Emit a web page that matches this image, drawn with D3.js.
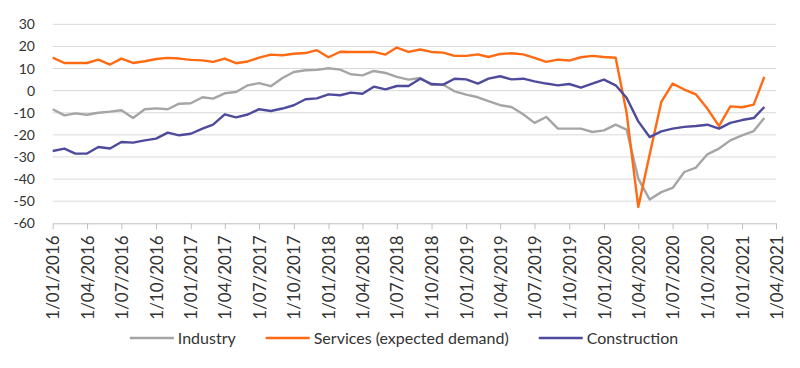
<!DOCTYPE html>
<html>
<head>
<meta charset="utf-8">
<script src="https://cdn.jsdelivr.net/npm/d3@7"></script>
<style>
  html, body { margin: 0; padding: 0; background: #fff; }
  svg { display: block; font-family: Lato, "Open Sans", sans-serif; }
</style>
</head>
<body>
<svg id="chart" width="800" height="368"></svg>
<script>
// ---- Data (monthly, Jan 2016 – Mar 2021) ----
const startMonth = "2016-01";
const seriesNames = ["Industry", "Services (expected demand)", "Construction"];
const seriesColors = ["#A5A5A5", "#FF6A13", "#4E4A9C"];

const industry = [
  -8.4, -11.2, -10.3, -10.9, -10.0, -9.5, -8.9, -12.4, -8.4, -8.0, -8.4, -5.9,
  -5.7, -3.0, -3.6, -1.2, -0.6, 2.4, 3.4, 2.0, 5.7, 8.4, 9.2, 9.4,
  10.1, 9.5, 7.4, 6.9, 8.9, 8.0, 6.2, 5.0, 5.7, 2.6, 2.7, -0.3,
  -1.8, -3.0, -4.7, -6.6, -7.4, -10.7, -14.6, -11.9, -17.2, -17.2, -17.2, -18.7,
  -18.0, -15.4, -17.6, -39.8, -49.2, -45.9, -44.0, -36.8, -34.8, -28.8, -26.2, -22.5,
  -20.2, -18.3, -12.4
];
const services = [
  14.9, 12.5, 12.5, 12.5, 14.0, 11.8, 14.5, 12.5, 13.3, 14.3, 14.8, 14.5,
  13.9, 13.7, 13.0, 14.5, 12.4, 13.2, 14.9, 16.3, 16.0, 16.7, 17.0, 18.3,
  15.1, 17.6, 17.5, 17.5, 17.5, 16.3, 19.5, 17.5, 18.6, 17.5, 17.2, 15.7,
  15.7, 16.4, 15.2, 16.6, 16.9, 16.4, 14.8, 13.0, 14.0, 13.6, 15.1, 15.7,
  15.2, 14.9, -10.0, -52.6, -29.0, -5.1, 3.2, 0.5, -1.7, -8.1, -16.0, -7.1,
  -7.5, -6.3, 6.2
];
const construction = [
  -27.3, -26.2, -28.5, -28.4, -25.5, -26.2, -23.2, -23.5, -22.5, -21.7, -19.0, -20.2,
  -19.5, -17.2, -15.4, -10.7, -12.1, -10.8, -8.4, -9.2, -8.1, -6.6, -3.9, -3.5,
  -1.7, -2.1, -0.9, -1.4, 1.8, 0.6, 2.1, 2.1, 5.4, 3.0, 2.7, 5.4,
  5.1, 3.2, 5.4, 6.5, 5.1, 5.4, 4.2, 3.2, 2.4, 3.0, 1.4, 3.2,
  5.0, 2.4, -3.2, -13.9, -21.0, -18.4, -17.2, -16.4, -16.0, -15.4, -17.2, -14.6,
  -13.3, -12.4, -7.4
];
const yTicks = [30, 20, 10, 0, -10, -20, -30, -40, -50, -60];
const xDomain = ["2016-01-01", "2021-04-01"];

// ---- Build ----
const parse = d3.timeParse("%Y-%m-%d");
const start = d3.timeParse("%Y-%m")(startMonth);
const months = d3.timeMonth.range(start, d3.timeMonth.offset(start, industry.length));
const allSeries = [industry, services, construction];

const svg = d3.select("#chart");
const plotLeft = 52.7, plotRight = 776, plotTop = 24.3, plotBottom = 223.3;

const x = d3.scaleTime().domain(xDomain.map(parse)).range([plotLeft, plotRight]);
const y = d3.scaleLinear().domain([-60, 30]).range([plotBottom, plotTop]);

// gridlines
svg.append("g").selectAll("line")
  .data(yTicks.filter(v => v !== -60))
  .join("line")
  .attr("x1", plotLeft).attr("x2", plotRight)
  .attr("y1", d => y(d)).attr("y2", d => y(d))
  .attr("stroke", "#D9D9D9").attr("stroke-width", 1);

// y labels
svg.append("g").selectAll("text")
  .data(yTicks)
  .join("text")
  .attr("x", 35).attr("y", d => y(d))
  .attr("dy", "0.36em")
  .attr("text-anchor", "end")
  .attr("font-size", 14)
  .attr("fill", "#333333")
  .text(d => d);

// x axis
const xAxis = d3.axisBottom(x)
  .tickValues(d3.timeMonth.every(3).range(parse(xDomain[0]), d3.timeDay.offset(parse(xDomain[1]), 1)))
  .tickFormat(d3.timeFormat("%-d/%m/%Y"))
  .tickSize(6)
  .tickSizeOuter(0);
const gx = svg.append("g").attr("transform", `translate(0,${plotBottom})`).call(xAxis);
gx.select(".domain").attr("stroke", "#BFBFBF");
gx.selectAll(".tick line").attr("stroke", "#BFBFBF");
gx.selectAll(".tick text")
  .attr("font-family", "Lato, 'Open Sans', sans-serif")
  .attr("font-size", 17)
  .attr("fill", "#333333")
  .attr("text-anchor", "end")
  .attr("transform", "rotate(-90)")
  .attr("x", -12)
  .attr("y", 0)
  .attr("dy", "0.36em");

// lines
const line = d3.line()
  .x((d, i) => x(months[i]))
  .y(d => y(d));
allSeries.forEach((s, k) => {
  svg.append("path")
    .datum(s)
    .attr("fill", "none")
    .attr("stroke", seriesColors[k])
    .attr("stroke-width", 2.4)
    .attr("stroke-linejoin", "round")
    .attr("d", line);
});

// legend
const legend = svg.append("g");
const items = legend.selectAll("g").data(seriesNames).join("g");
items.append("line")
  .attr("x1", 0).attr("x2", 44).attr("y1", 0).attr("y2", 0)
  .attr("stroke", (d, i) => seriesColors[i]).attr("stroke-width", 2.4);
items.append("text")
  .attr("x", 48).attr("y", 0).attr("dy", "0.36em")
  .attr("font-size", 16)
  .attr("fill", "#333333")
  .text(d => d);
let pos = 0;
const gap = 30;
items.each(function () {
  const w = 48 + d3.select(this).select("text").node().getComputedTextLength();
  d3.select(this).attr("transform", `translate(${pos},0)`);
  pos += w + gap;
});
const total = pos - gap;
legend.attr("transform", `translate(${404 - total / 2},338)`);
</script>
</body>
</html>
